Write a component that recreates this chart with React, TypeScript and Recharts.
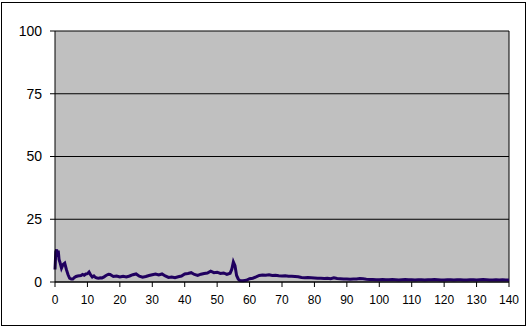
import {
  CartesianGrid,
  Line,
  LineChart,
  ReferenceLine,
  XAxis,
  YAxis,
} from "recharts";

const xs = [
  0, 0.25, 0.5, 0.75, 1, 1.25, 1.5, 2, 2.5, 3, 3.5, 4, 4.5, 5, 5.5, 6, 6.5, 7,
  7.5, 8, 8.5, 9, 9.5, 10, 10.5, 11, 11.5, 12, 12.5, 13, 13.5, 14, 14.5, 15,
  15.5, 16, 16.5, 17, 17.5, 18, 19, 20, 21, 22, 23, 24, 25, 26, 27, 28, 29, 30,
  31, 32, 33, 34, 35, 36, 37, 38, 39, 40, 41, 42, 43, 44, 45, 46, 47, 48, 49,
  50, 51, 52, 53, 54, 54.5, 55, 55.5, 56, 56.5, 57, 58, 59, 60, 61, 62, 63, 64,
  65, 66, 67, 68, 69, 70, 71, 72, 73, 74, 75, 76, 77, 78, 79, 80, 81, 82, 83,
  84, 85, 86, 87, 88, 89, 90, 91, 92, 93, 94, 95, 96, 97, 98, 99, 100, 101, 102,
  103, 104, 105, 106, 107, 108, 109, 110, 111, 112, 113, 114, 115, 116, 117,
  118, 119, 120, 121, 122, 123, 124, 125, 126, 127, 128, 129, 130, 131, 132,
  133, 134, 135, 136, 137, 138, 139, 140,
];

const values = [
  5, 12, 13, 10, 12.5, 9, 8, 5.5, 7, 7.5, 5, 3, 1.5, 1.2, 1.2, 1.8, 2.2, 2.4,
  2.5, 2.6, 3, 2.7, 3.2, 3.3, 4, 2.8, 2, 2.4, 1.8, 1.6, 1.5, 1.7, 1.6, 1.9, 2.4,
  2.8, 3.1, 3, 2.6, 2.2, 2.4, 2, 2.3, 2, 2.4, 2.9, 3.2, 2.3, 1.9, 2.2, 2.6, 2.9,
  3.2, 2.8, 3.2, 2.4, 1.8, 2, 1.7, 2.1, 2.4, 3.2, 3.4, 3.7, 3, 2.6, 3.1, 3.4,
  3.6, 4.3, 3.7, 3.9, 3.4, 3.6, 3, 3.5, 5, 8, 6.5, 2.6, 1.2, 0.6, 0.5, 0.7, 1.3,
  1.5, 2, 2.6, 2.8, 2.7, 2.9, 2.6, 2.7, 2.5, 2.4, 2.5, 2.3, 2.3, 2.2, 2.1, 1.8,
  1.7, 1.8, 1.7, 1.6, 1.5, 1.5, 1.4, 1.5, 1.3, 1.7, 1.4, 1.3, 1.2, 1.2, 1.1,
  1.2, 1.2, 1.4, 1.3, 1.1, 1.0, 1.0, 0.9, 0.9, 1.0, 0.9, 0.9, 1.0, 0.9, 0.8,
  0.9, 1.0, 0.9, 0.9, 0.8, 0.9, 0.9, 0.8, 0.9, 0.9, 1.0, 0.9, 0.8, 0.8, 0.9,
  0.9, 0.8, 0.9, 0.9, 0.8, 0.8, 0.9, 0.9, 0.8, 0.9, 1.0, 0.9, 0.8, 0.8, 0.9,
  0.8, 0.9, 0.8, 0.8,
];

const xTicks = [0, 10, 20, 30, 40, 50, 60, 70, 80, 90, 100, 110, 120, 130, 140];
const yTicks = [0, 25, 50, 75, 100];

const data = xs.map((x, i) => ({ x, v: values[i] }));

const font = "'Liberation Sans', Arial, sans-serif";

export default function App() {
  return (
    <div
      style={{
        position: "absolute",
        left: 0,
        top: 0,
        width: 527,
        height: 328,
        background: "#fff",
      }}
    >
      <LineChart
        width={527}
        height={328}
        data={data}
        margin={{ top: 31, right: 18, bottom: 16, left: 0 }}
      >
        <CartesianGrid
          vertical={false}
          stroke="#000"
          fill="#C0C0C0"
          fillOpacity={1}
        />
        <XAxis
          type="number"
          dataKey="x"
          domain={[0, 140]}
          ticks={xTicks}
          interval={0}
          height={30}
          stroke="#000"
          tickSize={5}
          tickMargin={8}
          tick={{ fontFamily: font, fontSize: 12, fill: "#000" }}
        />
        <YAxis
          type="number"
          domain={[0, 100]}
          ticks={yTicks}
          interval={0}
          width={55}
          stroke="#000"
          tickSize={5}
          tickMargin={8}
          tick={{ fontFamily: font, fontSize: 14, fill: "#000" }}
        />
        <ReferenceLine x={140} stroke="#000" />
        <Line
          type="linear"
          dataKey="v"
          stroke="#20005F"
          strokeWidth={3}
          dot={false}
          isAnimationActive={false}
        />
      </LineChart>
      <div
        style={{
          position: "absolute",
          left: 1,
          top: 2,
          width: 525,
          height: 324,
          boxSizing: "border-box",
          border: "1px solid #000",
          pointerEvents: "none",
        }}
      />
    </div>
  );
}
